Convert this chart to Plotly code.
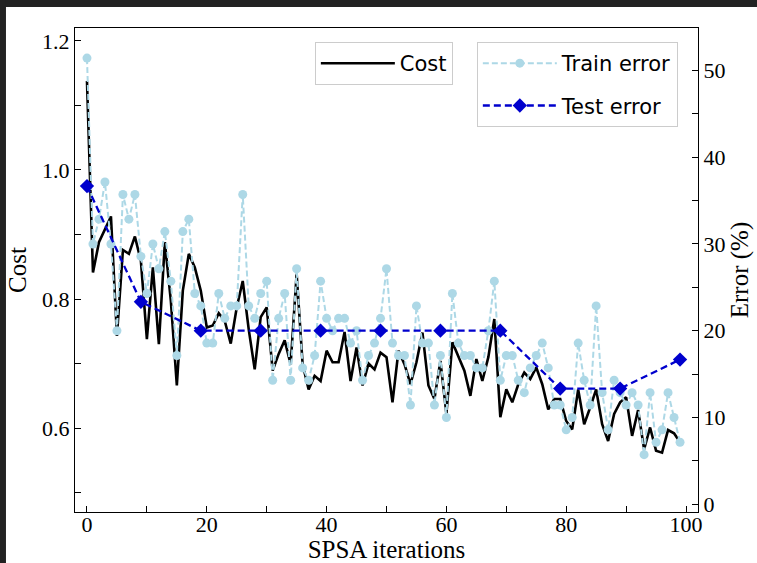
import plotly.graph_objects as go

iterations = list(range(100))

cost = [1.138, 0.841, 0.888, 0.909, 0.928, 0.743, 0.876, 0.870, 0.897, 0.859,
        0.738, 0.849, 0.730, 0.888, 0.797, 0.666, 0.813, 0.870, 0.849, 0.813,
        0.756, 0.759, 0.778, 0.766, 0.731, 0.787, 0.828, 0.753, 0.691, 0.772,
        0.787, 0.689, 0.715, 0.736, 0.699, 0.839, 0.699, 0.660, 0.681, 0.673,
        0.720, 0.702, 0.702, 0.749, 0.673, 0.725, 0.666, 0.700, 0.691, 0.717,
        0.710, 0.640, 0.720, 0.699, 0.668, 0.702, 0.748, 0.666, 0.645, 0.704,
        0.622, 0.733, 0.712, 0.689, 0.650, 0.707, 0.673, 0.710, 0.769, 0.617,
        0.660, 0.640, 0.668, 0.686, 0.676, 0.694, 0.668, 0.629, 0.645, 0.645,
        0.611, 0.598, 0.660, 0.606, 0.632, 0.660, 0.606, 0.580, 0.622, 0.640,
        0.648, 0.588, 0.628, 0.567, 0.601, 0.565, 0.562, 0.597, 0.592, 0.578]

train_error = [51.43, 30.00, 32.86, 37.14, 30.00, 20.00, 35.71, 32.86, 35.71, 28.57,
               24.29, 30.00, 27.14, 31.43, 25.71, 17.14, 31.43, 32.86, 24.29, 22.86,
               18.57, 18.57, 24.29, 21.43, 22.86, 22.86, 35.71, 22.86, 21.43, 24.29,
               25.71, 14.29, 21.43, 24.29, 14.29, 27.14, 15.71, 14.29, 17.14, 25.71,
               21.43, 20.00, 21.43, 21.43, 18.57, 20.00, 14.29, 17.14, 18.57, 21.43,
               27.14, 18.57, 17.14, 17.14, 11.43, 22.86, 18.57, 18.57, 11.43, 17.14,
               10.00, 24.29, 18.57, 17.14, 17.14, 15.71, 15.71, 20.00, 25.71, 14.29,
               17.14, 17.14, 14.29, 12.86, 15.71, 17.14, 18.57, 15.71, 11.43, 11.43,
               8.57, 10.00, 18.57, 14.29, 11.43, 22.86, 12.86, 8.57, 14.29, 12.86,
               11.43, 12.86, 11.43, 5.71, 12.86, 7.14, 8.57, 12.86, 10.00, 7.14]

test_iterations = [0, 9, 19, 29, 39, 49, 59, 69, 79, 89, 99]
test_error = [36.67, 23.33, 20.00, 20.00, 20.00, 20.00, 20.00, 20.00, 13.33, 13.33, 16.67]

x_ticks = [0, 20, 40, 60, 80, 100]
cost_ticks = [0.6, 0.8, 1.0, 1.2]
error_ticks = [0, 10, 20, 30, 40, 50]

SERIF = "Liberation Serif"
SANS = "DejaVu Sans"

fig = go.Figure()
fig.add_trace(go.Scatter(
    x=iterations, y=cost, mode="lines", name="Cost", showlegend=True,
    line=dict(color="black", width=2.6), yaxis="y", legend="legend"))
fig.add_trace(go.Scatter(
    x=iterations, y=train_error, mode="lines+markers", name="Train error", showlegend=True,
    line=dict(color="#ADD8E6", width=2, dash="6px,3px"),
    marker=dict(symbol="circle", size=9, color="#ADD8E6"),
    yaxis="y2", legend="legend2", legendgroup="a"))
fig.add_trace(go.Scatter(
    x=test_iterations, y=test_error, mode="lines+markers", name="Test error", showlegend=True,
    line=dict(color="#0000CD", width=2.3, dash="7px,4px"),
    marker=dict(symbol="diamond", size=11, color="#0000CD"),
    yaxis="y2", legend="legend2", legendgroup="b"))

axis_common = dict(showline=True, linecolor="black", linewidth=1,
                   ticks="inside", ticklen=6, tickcolor="black", tickwidth=1,
                   showgrid=False, zeroline=False,
                   tickfont=dict(family=SERIF, size=22, color="black"))

TITLE_FONT = dict(family=SERIF, size=25, color="black")

fig.update_layout(
    width=757, height=563,
    showlegend=True,
    margin=dict(l=75, r=59, t=28, b=51, autoexpand=False),
    paper_bgcolor="white", plot_bgcolor="white",
    xaxis=dict(range=[-2, 102], tickvals=x_ticks, mirror=True,
               ticklabelstandoff=-7,
               minor=dict(dtick=10, tick0=0, ticks="inside", ticklen=6, tickcolor="black"),
               title=dict(text="SPSA iterations", font=TITLE_FONT, standoff=0),
               **axis_common),
    yaxis=dict(range=[0.47, 1.22], tickvals=cost_ticks, tickformat=".1f",
               minor=dict(dtick=0.1, tick0=0.5, ticks="inside", ticklen=6, tickcolor="black"),
               title=dict(text="Cost", font=TITLE_FONT, standoff=8),
               **axis_common),
    yaxis2=dict(range=[-0.9, 54.9], tickvals=error_ticks, overlaying="y", side="right",
                minor=dict(dtick=5, tick0=0, ticks="inside", ticklen=6, tickcolor="black"),
                title=dict(text="Error (%)", font=TITLE_FONT, standoff=6),
                **axis_common),
    legend=dict(x=0.385, y=0.971, xanchor="left", yanchor="top", visible=True,
                bgcolor="rgba(255,255,255,0.8)", bordercolor="#cccccc", borderwidth=1,
                itemwidth=74,
                font=dict(family=SANS, size=21, color="black")),
    legend2=dict(x=0.645, y=0.971, xanchor="left", yanchor="top", visible=True,
                 bgcolor="rgba(255,255,255,0.8)", bordercolor="#cccccc", borderwidth=1,
                 itemwidth=74, tracegroupgap=12, traceorder="grouped",
                 font=dict(family=SANS, size=21, color="black")),
    shapes=[
        dict(type="rect", xref="paper", yref="paper", x0=-0.125, x1=1.1, y0=1.0434, y1=1.07,
             fillcolor="#222222", line=dict(width=0), layer="above"),
        dict(type="rect", xref="paper", yref="paper", x0=-0.125, x1=-0.1108, y0=-0.11, y1=1.07,
             fillcolor="#222222", line=dict(width=0), layer="above"),
    ],
)

fig.write_html("out.html")
